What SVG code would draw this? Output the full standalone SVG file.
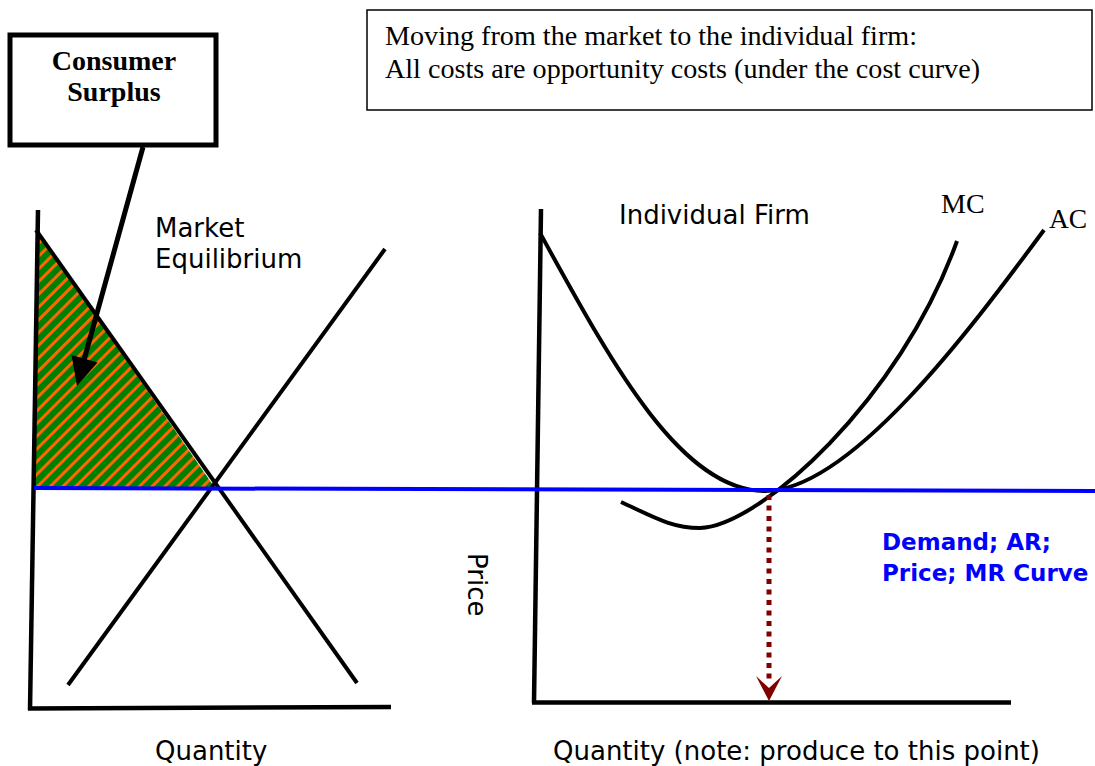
<svg xmlns="http://www.w3.org/2000/svg" width="1095" height="766" viewBox="0 0 1095 766">
<style>
.ax{stroke:#000;stroke-width:4.5;fill:none;stroke-linecap:butt}
.ln{stroke:#000;stroke-width:4;fill:none}
.sans{font-family:"DejaVu Sans",Verdana,sans-serif;font-size:26px;fill:#000}
.serif{font-family:"Liberation Serif","Times New Roman",serif;fill:#000}
.blue{font-family:"DejaVu Sans",Verdana,sans-serif;font-weight:bold;font-size:23px;fill:#0000ff}
</style>
<defs>
<pattern id="stripes" patternUnits="userSpaceOnUse" width="9" height="9" patternTransform="rotate(45)">
<rect x="0" y="0" width="9" height="9" fill="#008000"/>
<rect x="0" y="0" width="3" height="9" fill="#ff6600"/>
</pattern>
</defs>
<rect width="1095" height="766" fill="#fff"/>

<g id="surplus-area">
<polygon points="36,230 34,488 215,488" fill="url(#stripes)"/>
</g>

<g id="market-graph">
<line class="ax" x1="38" y1="210" x2="30" y2="710"/>
<line class="ax" x1="28" y1="708.5" x2="391" y2="707"/>
<line class="ln" x1="36" y1="230" x2="357" y2="683"/>
<line class="ln" x1="68" y1="685" x2="385" y2="249"/>
<text class="sans" x="155" y="237">Market</text>
<text class="sans" x="155" y="268">Equilibrium</text>
<text class="sans" x="155" y="760">Quantity</text>
</g>

<g id="firm-graph">
<line class="ax" x1="541" y1="209" x2="534" y2="703"/>
<line class="ax" x1="532" y1="702.5" x2="1011" y2="702.5"/>
<path class="ln" d="M540,233 C610,360 680,491 765,491 C850,491 970,330 1044,230"/>
<path class="ln" d="M621,502 C650,515 670,528 700,528 C760,526 900,400 957,241"/>
<text class="sans" x="619" y="224" font-size="26.5">Individual Firm</text>
<text class="serif" x="941" y="213" font-size="28">MC</text>
<text class="serif" x="1049" y="228" font-size="27.5">AC</text>
<text class="sans" transform="translate(468,553) rotate(90)" font-size="27">Price</text>
<text class="sans" x="553" y="760" font-size="26.3">Quantity (note: produce to this point)</text>
</g>

<g id="demand-line">
<line x1="34" y1="488" x2="1095" y2="491" stroke="#0000ff" stroke-width="4"/>
<text class="blue" x="882" y="550">Demand; AR;</text>
<text class="blue" x="882" y="581">Price; MR Curve</text>
</g>

<g id="consumer-surplus-label">
<rect x="10" y="35" width="206" height="110" fill="#fff" stroke="#000" stroke-width="5"/>
<text class="serif" x="114" y="70" font-size="28" font-weight="bold" text-anchor="middle">Consumer</text>
<text class="serif" x="114" y="101" font-size="28" font-weight="bold" text-anchor="middle">Surplus</text>
</g>

<g id="note-box">
<rect x="367" y="10" width="725" height="100" fill="#fff" stroke="#000" stroke-width="1.5"/>
<text class="serif" x="385" y="45" font-size="28" textLength="532" lengthAdjust="spacingAndGlyphs">Moving from the market to the individual firm:</text>
<text class="serif" x="385" y="78" font-size="28" textLength="595" lengthAdjust="spacingAndGlyphs">All costs are opportunity costs (under the cost curve)</text>
</g>

<g id="connectors">
<line x1="143" y1="147" x2="84" y2="360" stroke="#000" stroke-width="5"/>
<polygon points="77,386 71.5,355 97.5,362.5" fill="#000"/>
<line x1="769" y1="495" x2="769" y2="684" stroke="#800000" stroke-width="5" stroke-dasharray="5 5.5"/>
<polygon points="756,676 769,688 782,676 769,701" fill="#800000"/>
</g>
</svg>
